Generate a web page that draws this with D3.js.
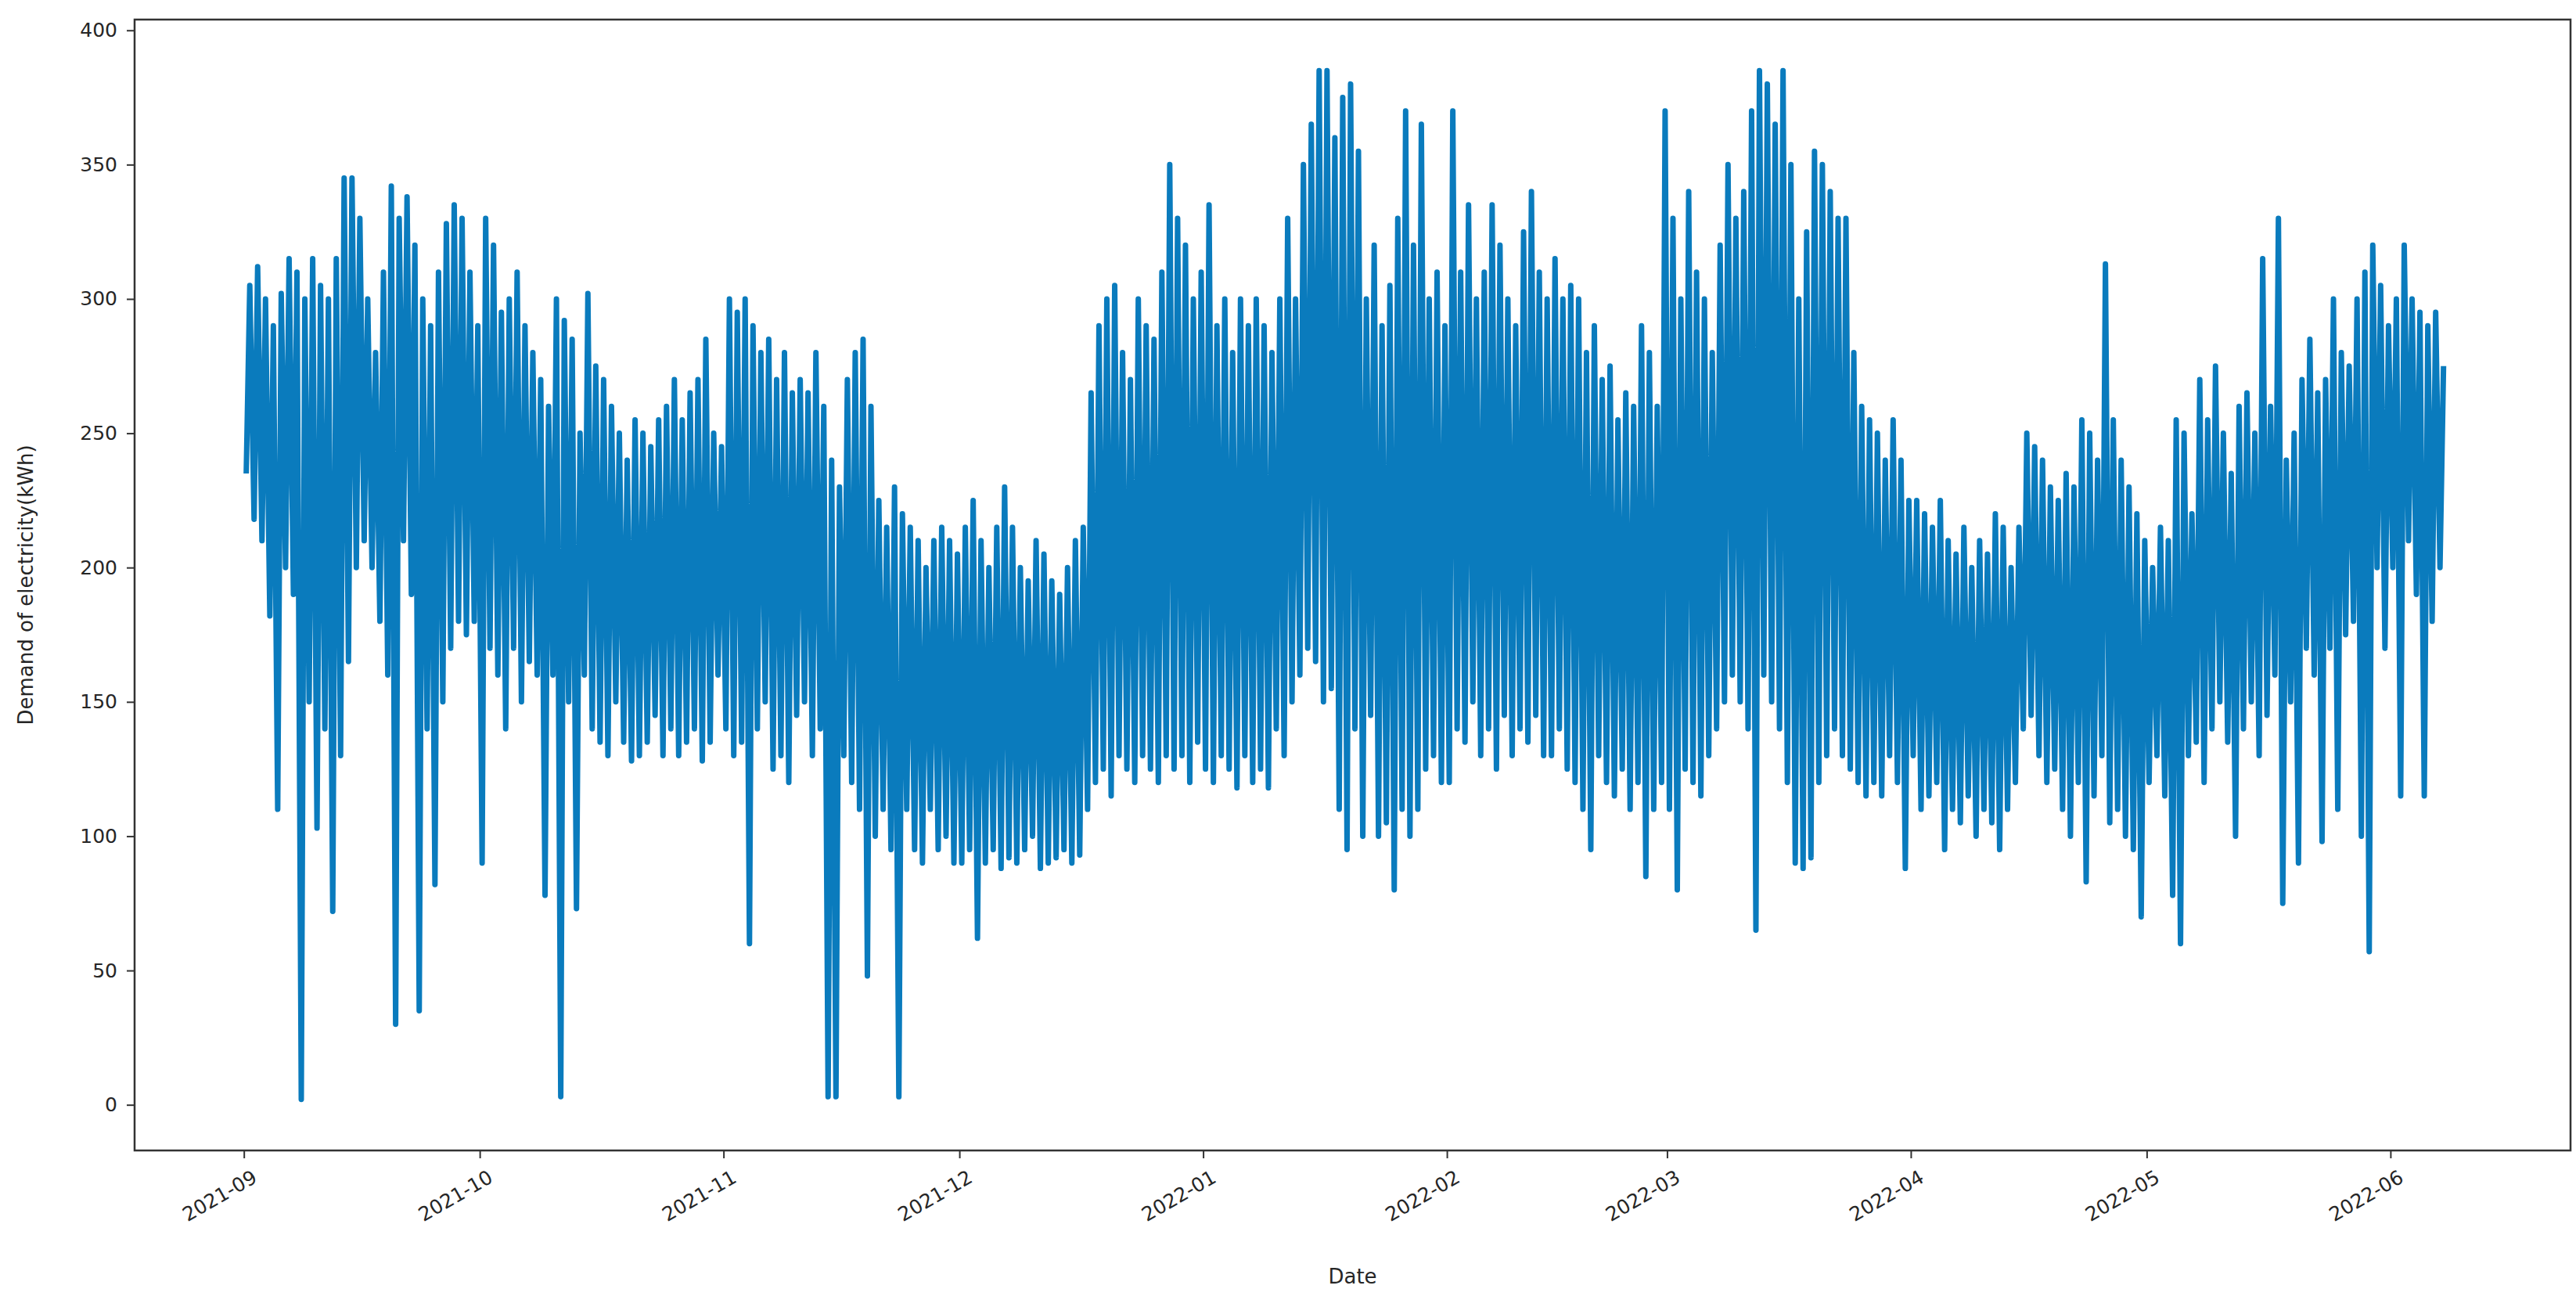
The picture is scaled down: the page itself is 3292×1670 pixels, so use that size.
<!DOCTYPE html>
<html>
<head>
<meta charset="utf-8">
<script src="https://cdn.jsdelivr.net/npm/d3@7"></script>
<style>
  body { margin: 0; background: #fff; }
  text { font-family: "DejaVu Sans", sans-serif; fill: #262626; }
</style>
</head>
<body>
<svg id="chart" width="3292" height="1670"></svg>
<script>
// daily peaks and troughs, 2021-09-01 .. 2022-06-07
var startDate = Date.UTC(2021, 8, 1);
var dailyMax = [
  // Sep
  305,312,300,290,302,315,310,300,315,305,300,315,345,345,330,300,280,310,342,330,338,320,300,290,310,328,335,330,310,290,
  // Oct
  330,320,295,300,310,290,280,270,260,300,292,285,250,302,275,270,260,250,240,255,250,245,255,260,270,255,265,270,285,250,245,
  // Nov
  300,295,300,290,280,285,270,280,265,270,265,280,260,240,230,270,280,285,260,225,215,230,220,215,210,200,210,215,210,205,
  // Dec
  215,225,210,200,215,230,215,200,195,210,205,195,190,200,210,215,265,290,300,305,280,270,300,290,285,310,350,330,320,300,310,
  // Jan
  335,290,300,280,300,290,300,290,280,300,330,300,350,365,385,385,360,375,380,355,300,320,290,305,330,370,320,365,300,310,290,
  // Feb
  370,310,335,300,310,335,320,300,290,325,340,310,300,315,300,305,300,280,290,270,275,255,265,260,290,280,260,370,
  // Mar
  330,300,340,310,300,280,320,350,330,340,370,385,380,365,385,350,300,325,355,350,340,330,330,280,260,255,250,240,255,240,225,
  // Apr
  225,220,215,225,210,205,215,200,210,205,220,215,200,215,250,245,240,230,225,235,230,255,250,240,313,255,240,230,220,210,
  // May
  200,215,210,255,250,220,270,255,275,250,235,260,265,250,315,260,330,240,250,270,285,265,270,300,280,275,300,310,320,305,290,
  // Jun
  300,320,300,295,290,295,275
];
var dailyMin = [
  235,218,210,182,110,200,190,2,150,103,140,72,130,165,200,210,200,180,160,30,210,190,35,140,82,150,170,180,175,180,
  90,170,160,140,170,150,165,160,78,160,3,150,73,160,140,135,130,150,135,128,130,135,145,130,140,130,135,140,128,135,160,
  140,130,135,60,140,150,125,130,120,145,150,130,140,3,3,130,120,110,48,100,110,95,3,110,95,90,110,95,100,90,
  90,95,62,90,95,88,92,90,95,100,88,90,92,95,90,93,110,120,125,115,130,125,120,130,125,120,130,125,130,120,135,
  125,120,130,125,118,130,120,125,118,140,130,150,160,170,165,150,155,110,95,140,100,145,100,105,80,110,100,110,125,130,120,
  120,140,135,150,130,140,125,145,130,140,135,145,130,130,140,125,120,110,95,130,120,115,125,110,120,85,110,120,
  110,80,125,120,115,130,140,150,160,150,140,65,160,150,140,120,90,88,92,120,130,140,130,125,120,115,120,115,130,120,88,
  130,110,115,120,95,110,105,115,100,110,105,95,110,120,140,145,130,120,125,110,100,120,83,115,130,105,110,100,95,70,
  120,130,115,78,60,130,135,120,140,150,135,100,140,150,130,145,160,75,150,90,170,160,98,170,110,175,180,100,57,200,170,
  200,115,210,190,115,180,200
];
var yTicks = [0, 50, 100, 150, 200, 250, 300, 350, 400];

var DAY = 864e5;
var svg = d3.select("#chart");
var plotL = 172, plotR = 3285, plotT = 25, plotB = 1470;

var x = d3.scaleUtc()
  .domain([new Date(startDate - 13.9 * DAY), new Date(Date.UTC(2022, 5, 1) + 22.9 * DAY)])
  .range([plotL, plotR]);
var y = d3.scaleLinear().domain([-17, 404]).range([plotB, plotT]);

// zigzag: trough then peak within each day
var pts = [];
dailyMax.forEach(function(hi, i) {
  var d0 = startDate + i * DAY;
  pts.push([new Date(d0 + 0.3 * DAY), dailyMin[i]]);
  pts.push([new Date(d0 + 0.75 * DAY), hi]);
});

svg.append("path")
  .datum(pts)
  .attr("fill", "none")
  .attr("stroke", "#0a7bbd")
  .attr("stroke-width", 7)
  .attr("stroke-linejoin", "round")
  .attr("d", d3.line().x(function(d) { return x(d[0]); }).y(function(d) { return y(d[1]); }));

var xAxis = svg.append("g")
  .attr("transform", "translate(0," + plotB + ")")
  .call(d3.axisBottom(x).ticks(d3.utcMonth.every(1)).tickFormat(d3.utcFormat("%Y-%m")).tickSize(10).tickSizeOuter(0));
xAxis.selectAll("text")
  .style("font-size", "25px")
  .attr("text-anchor", "end")
  .attr("x", 0).attr("y", 0)
  .attr("transform", "translate(8,22) rotate(-30)")
  .attr("dy", "0.8em");

var yAxis = svg.append("g")
  .attr("transform", "translate(" + plotL + ",0)")
  .call(d3.axisLeft(y).tickValues(yTicks).tickSize(10).tickSizeOuter(0).tickPadding(12));
yAxis.selectAll("text").style("font-size", "25px");

svg.selectAll(".domain").remove();
svg.selectAll(".tick line").attr("stroke", "#333").attr("stroke-width", 2);
svg.append("rect")
  .attr("x", plotL).attr("y", plotT).attr("width", plotR - plotL).attr("height", plotB - plotT)
  .attr("fill", "none").attr("stroke", "#333").attr("stroke-width", 2.5);

svg.append("text")
  .attr("x", (plotL + plotR) / 2).attr("y", 1640)
  .attr("text-anchor", "middle").style("font-size", "26px").text("Date");
svg.append("text")
  .attr("transform", "translate(42," + (plotT + plotB) / 2 + ") rotate(-90)")
  .attr("text-anchor", "middle").style("font-size", "26px").text("Demand of electricity(kWh)");
</script>
</body>
</html>
